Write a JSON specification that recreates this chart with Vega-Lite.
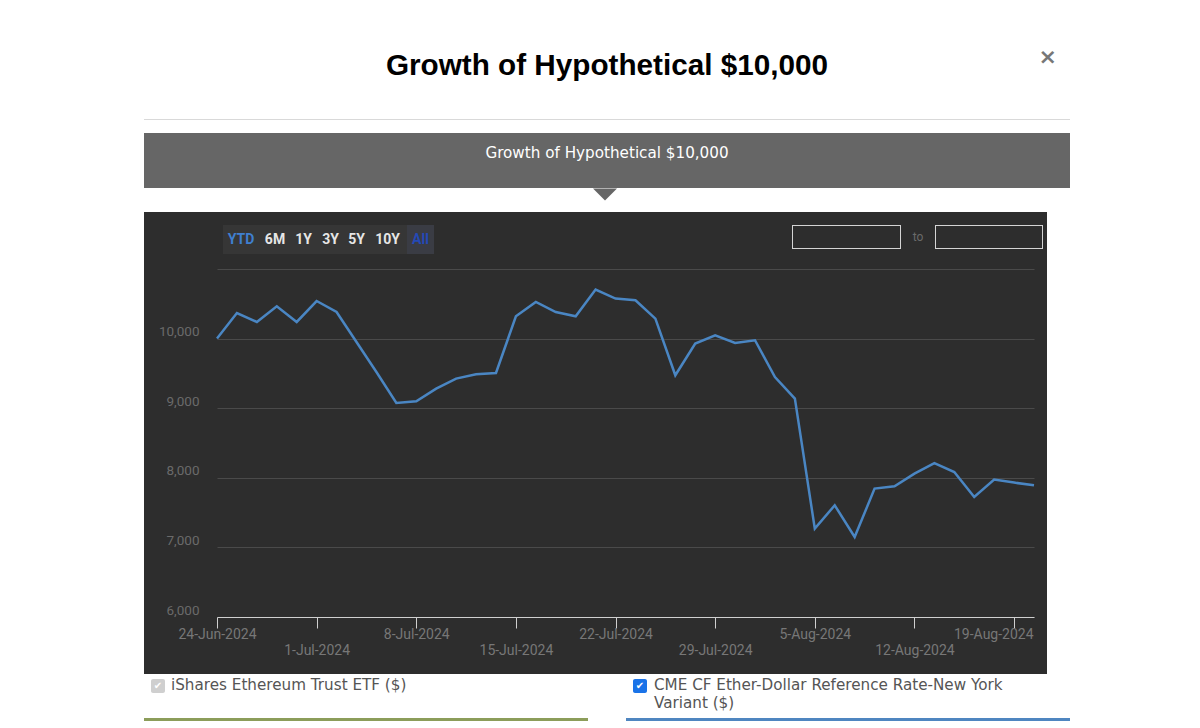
{
  "$schema": "https://vega.github.io/schema/vega-lite/v6.json",
  "background": "#ffffff",
  "padding": {"left": 144, "top": 46, "right": 130, "bottom": 4},
  "spacing": 0,
  "title": {"text": "×", "font": "DejaVu Sans", "fontSize": 22, "fontWeight": "bold", "color": "#777777", "anchor": "end", "dx": -13, "offset": -18},
  "config": {
    "view": {"stroke": null},
    "font": "Roboto",
    "text": {"fontSize": 0},
    "axis": {"labelFont": "Roboto"}
  },
  "vconcat": [
    {
      "width": 926, "height": 1,
      "view": {"fill": "#d9d9d9"},
      "title": {"text": "Growth of Hypothetical $10,000", "font": "Liberation Sans", "fontSize": 29.7, "fontWeight": "bold", "color": "#000000", "anchor": "middle", "offset": 37},
      "data": {"values": [{}]}, "mark": {"type": "text", "text": ""}, "encoding": {}
    },
    {"width": 926, "height": 13, "data": {"values": [{}]}, "mark": {"type": "text", "text": ""}, "encoding": {}},
    {
      "width": 926, "height": 55,
      "view": {"fill": "#666666"},
      "data": {"values": [{}]},
      "mark": {"type": "text", "text": "Growth of Hypothetical $10,000", "color": "#ffffff", "font": "DejaVu Sans", "fontSize": 15.2, "baseline": "bottom"},
      "encoding": {}
    },
    {
      "width": 922, "height": 23,
      "data": {"values": [{}]},
      "mark": {"type": "point", "shape": "M-1,-1L1,-1L0,0Z", "size": 576, "filled": true, "color": "#666666", "opacity": 1, "strokeWidth": 0},
      "encoding": {}
    },
    {"width": 903, "height": 13, "view": {"fill": "#2d2d2d"}, "data": {"values": [{}]}, "mark": {"type": "text", "text": ""}, "encoding": {}},
    {
      "spacing": 0,
      "hconcat": [
        {"width": 79, "height": 29, "view": {"fill": "#2d2d2d"}, "data": {"values": [{}]}, "mark": {"type": "text", "text": ""}, "encoding": {}},
        {"width": 36, "height": 29, "view": {"fill": "#363636"}, "data": {"values": [{}]}, "mark": {"type": "text", "text": "YTD", "color": "#3f7fcf", "fontSize": 14, "fontWeight": "bold"}, "encoding": {}},
        {"width": 32, "height": 29, "view": {"fill": "#363636"}, "data": {"values": [{}]}, "mark": {"type": "text", "text": "6M", "color": "#e6e6e6", "fontSize": 14, "fontWeight": "bold"}, "encoding": {}},
        {"width": 25, "height": 29, "view": {"fill": "#363636"}, "data": {"values": [{}]}, "mark": {"type": "text", "text": "1Y", "color": "#e6e6e6", "fontSize": 14, "fontWeight": "bold"}, "encoding": {}},
        {"width": 29, "height": 29, "view": {"fill": "#363636"}, "data": {"values": [{}]}, "mark": {"type": "text", "text": "3Y", "color": "#e6e6e6", "fontSize": 14, "fontWeight": "bold"}, "encoding": {}},
        {"width": 23, "height": 29, "view": {"fill": "#363636"}, "data": {"values": [{}]}, "mark": {"type": "text", "text": "5Y", "color": "#e6e6e6", "fontSize": 14, "fontWeight": "bold"}, "encoding": {}},
        {"width": 39, "height": 29, "view": {"fill": "#363636"}, "data": {"values": [{}]}, "mark": {"type": "text", "text": "10Y", "color": "#e6e6e6", "fontSize": 14, "fontWeight": "bold"}, "encoding": {}},
        {"width": 27, "height": 29, "view": {"fill": "#3a3c44"}, "data": {"values": [{}]}, "mark": {"type": "text", "text": "All", "color": "#2449b5", "fontSize": 14, "fontWeight": "bold"}, "encoding": {}},
        {"width": 358, "height": 29, "view": {"fill": "#2d2d2d"}, "data": {"values": [{}]}, "mark": {"type": "text", "text": ""}, "encoding": {}},
        {
          "spacing": 0,
          "vconcat": [
            {"width": 109, "height": 1, "view": {"fill": "#d4d4d4"}, "data": {"values": [{}]}, "mark": {"type": "text", "text": ""}, "encoding": {}},
            {
              "spacing": 0,
              "hconcat": [
                {"width": 1, "height": 22, "view": {"fill": "#d4d4d4"}, "data": {"values": [{}]}, "mark": {"type": "text", "text": ""}, "encoding": {}},
                {"width": 107, "height": 22, "view": {"fill": "#2d2d2d"}, "data": {"values": [{}]}, "mark": {"type": "text", "text": ""}, "encoding": {}},
                {"width": 1, "height": 22, "view": {"fill": "#d4d4d4"}, "data": {"values": [{}]}, "mark": {"type": "text", "text": ""}, "encoding": {}}
              ]
            },
            {"width": 109, "height": 1, "view": {"fill": "#d4d4d4"}, "data": {"values": [{}]}, "mark": {"type": "text", "text": ""}, "encoding": {}},
            {"width": 109, "height": 5, "view": {"fill": "#2d2d2d"}, "data": {"values": [{}]}, "mark": {"type": "text", "text": ""}, "encoding": {}}
          ]
        },
        {
          "spacing": 0,
          "vconcat": [
            {"width": 34, "height": 24, "view": {"fill": "#2d2d2d"}, "data": {"values": [{}]}, "mark": {"type": "text", "text": "to", "color": "#6a6a6a", "fontSize": 12}, "encoding": {}},
            {"width": 34, "height": 5, "view": {"fill": "#2d2d2d"}, "data": {"values": [{}]}, "mark": {"type": "text", "text": ""}, "encoding": {}}
          ]
        },
        {
          "spacing": 0,
          "vconcat": [
            {"width": 108, "height": 1, "view": {"fill": "#d4d4d4"}, "data": {"values": [{}]}, "mark": {"type": "text", "text": ""}, "encoding": {}},
            {
              "spacing": 0,
              "hconcat": [
                {"width": 1, "height": 22, "view": {"fill": "#d4d4d4"}, "data": {"values": [{}]}, "mark": {"type": "text", "text": ""}, "encoding": {}},
                {"width": 106, "height": 22, "view": {"fill": "#2d2d2d"}, "data": {"values": [{}]}, "mark": {"type": "text", "text": ""}, "encoding": {}},
                {"width": 1, "height": 22, "view": {"fill": "#d4d4d4"}, "data": {"values": [{}]}, "mark": {"type": "text", "text": ""}, "encoding": {}}
              ]
            },
            {"width": 108, "height": 1, "view": {"fill": "#d4d4d4"}, "data": {"values": [{}]}, "mark": {"type": "text", "text": ""}, "encoding": {}},
            {"width": 108, "height": 5, "view": {"fill": "#2d2d2d"}, "data": {"values": [{}]}, "mark": {"type": "text", "text": ""}, "encoding": {}}
          ]
        },
        {"width": 4, "height": 29, "view": {"fill": "#2d2d2d"}, "data": {"values": [{}]}, "mark": {"type": "text", "text": ""}, "encoding": {}}
      ]
    },
    {"width": 903, "height": 15, "view": {"fill": "#2d2d2d"}, "data": {"values": [{}]}, "mark": {"type": "text", "text": ""}, "encoding": {}},
    {
      "width": 903, "height": 405,
      "view": {"fill": "#2d2d2d"},
      "data": {"values": [
        {"date": "24-Jun-2024", "value": 10000},
        {"date": "25-Jun-2024", "value": 10368},
        {"date": "26-Jun-2024", "value": 10239},
        {"date": "27-Jun-2024", "value": 10464},
        {"date": "28-Jun-2024", "value": 10239},
        {"date": "1-Jul-2024", "value": 10540},
        {"date": "2-Jul-2024", "value": 10382},
        {"date": "3-Jul-2024", "value": 9951},
        {"date": "4-Jul-2024", "value": 9520},
        {"date": "5-Jul-2024", "value": 9075},
        {"date": "8-Jul-2024", "value": 9099},
        {"date": "9-Jul-2024", "value": 9282},
        {"date": "10-Jul-2024", "value": 9425},
        {"date": "11-Jul-2024", "value": 9487},
        {"date": "12-Jul-2024", "value": 9506},
        {"date": "15-Jul-2024", "value": 10320},
        {"date": "16-Jul-2024", "value": 10526},
        {"date": "17-Jul-2024", "value": 10382},
        {"date": "18-Jul-2024", "value": 10320},
        {"date": "19-Jul-2024", "value": 10704},
        {"date": "22-Jul-2024", "value": 10575},
        {"date": "23-Jul-2024", "value": 10550},
        {"date": "24-Jul-2024", "value": 10287},
        {"date": "25-Jul-2024", "value": 9473},
        {"date": "26-Jul-2024", "value": 9928},
        {"date": "29-Jul-2024", "value": 10047},
        {"date": "30-Jul-2024", "value": 9937},
        {"date": "31-Jul-2024", "value": 9976},
        {"date": "1-Aug-2024", "value": 9448},
        {"date": "2-Aug-2024", "value": 9138},
        {"date": "5-Aug-2024", "value": 7270},
        {"date": "6-Aug-2024", "value": 7605},
        {"date": "7-Aug-2024", "value": 7149},
        {"date": "8-Aug-2024", "value": 7845},
        {"date": "9-Aug-2024", "value": 7878},
        {"date": "12-Aug-2024", "value": 8060},
        {"date": "13-Aug-2024", "value": 8212},
        {"date": "14-Aug-2024", "value": 8083},
        {"date": "15-Aug-2024", "value": 7724},
        {"date": "16-Aug-2024", "value": 7974},
        {"date": "19-Aug-2024", "value": 7931},
        {"date": "20-Aug-2024", "value": 7892}
      ]},
      "mark": {"type": "line", "color": "#4a86c3", "strokeWidth": 2.5},
      "encoding": {
        "x": {
          "field": "date", "type": "ordinal", "sort": null,
          "scale": {"type": "point", "range": [73, 890], "padding": 0},
          "axis": {
            "orient": "bottom", "offset": -57, "title": null, "grid": false,
            "values": ["24-Jun-2024", "1-Jul-2024", "8-Jul-2024", "15-Jul-2024", "22-Jul-2024", "29-Jul-2024", "5-Aug-2024", "12-Aug-2024", "19-Aug-2024"],
            "labelExpr": "indexof(['1-Jul-2024','15-Jul-2024','29-Jul-2024','12-Aug-2024'], datum.value) >= 0 ? ['', datum.value] : datum.value",
            "labelAngle": 0, "labelOverlap": false, "labelBaseline": "top", "labelLineHeight": 16.5,
            "labelAlign": {"condition": {"test": "datum.value == '19-Aug-2024'", "value": "right"}, "value": "center"},
            "labelOffset": {"condition": {"test": "datum.value == '19-Aug-2024'", "value": 19}, "value": 0},
            "labelPadding": -1, "labelColor": "#777777", "labelFontSize": 14,
            "domainColor": "#cfcfcf", "domainWidth": 1, "tickColor": "#cfcfcf", "tickSize": 11, "tickWidth": 1
          }
        },
        "y": {
          "field": "value", "type": "quantitative",
          "scale": {"domain": [6000, 11000], "range": [348, 0], "nice": false, "zero": false},
          "axis": {
            "offset": -55, "title": null,
            "values": [6000, 7000, 8000, 9000, 10000, 11000],
            "labelExpr": "datum.value == 11000 ? '' : format(datum.value, ',')",
            "domain": false, "ticks": false, "tickSize": 0, "labelPadding": 0,
            "labelColor": "#6a6a6a", "labelFontSize": 13.5, "labelOffset": -7, "labelBaseline": "middle",
            "gridColor": "#4a4a4a", "gridWidth": 1
          }
        }
      }
    },
    {"width": 926, "height": 3, "data": {"values": [{}]}, "mark": {"type": "text", "text": ""}, "encoding": {}},
    {
      "spacing": 38,
      "hconcat": [
        {
          "spacing": 25,
          "vconcat": [
            {
              "spacing": 6,
              "hconcat": [
                {"width": 1, "height": 14, "data": {"values": [{}]}, "mark": {"type": "text", "text": ""}, "encoding": {}},
                {"width": 14, "height": 14, "view": {"fill": "#cfcfcf", "cornerRadius": 2}, "data": {"values": [{}]}, "mark": {"type": "text", "text": "✔", "color": "#ffffff", "font": "DejaVu Sans", "fontSize": 10}, "encoding": {}},
                {"width": 410, "height": 14, "title": {"text": "iShares Ethereum Trust ETF ($)", "anchor": "start", "offset": -14, "font": "DejaVu Sans", "fontSize": 15.2, "fontWeight": "normal", "color": "#555555"}, "data": {"values": [{}]}, "mark": {"type": "text", "text": ""}, "encoding": {}}
              ]
            },
            {"width": 444, "height": 3, "view": {"fill": "#8c9d5a"}, "data": {"values": [{}]}, "mark": {"type": "text", "text": ""}, "encoding": {}}
          ]
        },
        {
          "spacing": 7,
          "vconcat": [
            {
              "spacing": 6,
              "hconcat": [
                {"width": 1, "height": 14, "data": {"values": [{}]}, "mark": {"type": "text", "text": ""}, "encoding": {}},
                {"width": 14, "height": 14, "view": {"fill": "#1a73e8", "cornerRadius": 2}, "data": {"values": [{}]}, "mark": {"type": "text", "text": "✔", "color": "#ffffff", "font": "DejaVu Sans", "fontSize": 10}, "encoding": {}},
                {"width": 410, "height": 32, "title": {"text": ["CME CF Ether-Dollar Reference Rate-New York", "Variant ($)"], "anchor": "start", "offset": -32, "lineHeight": 18, "dx": 1, "font": "DejaVu Sans", "fontSize": 15.2, "fontWeight": "normal", "color": "#555555"}, "data": {"values": [{}]}, "mark": {"type": "text", "text": ""}, "encoding": {}}
              ]
            },
            {"width": 444, "height": 3, "view": {"fill": "#4f86c0"}, "data": {"values": [{}]}, "mark": {"type": "text", "text": ""}, "encoding": {}}
          ]
        }
      ]
    }
  ]
}
